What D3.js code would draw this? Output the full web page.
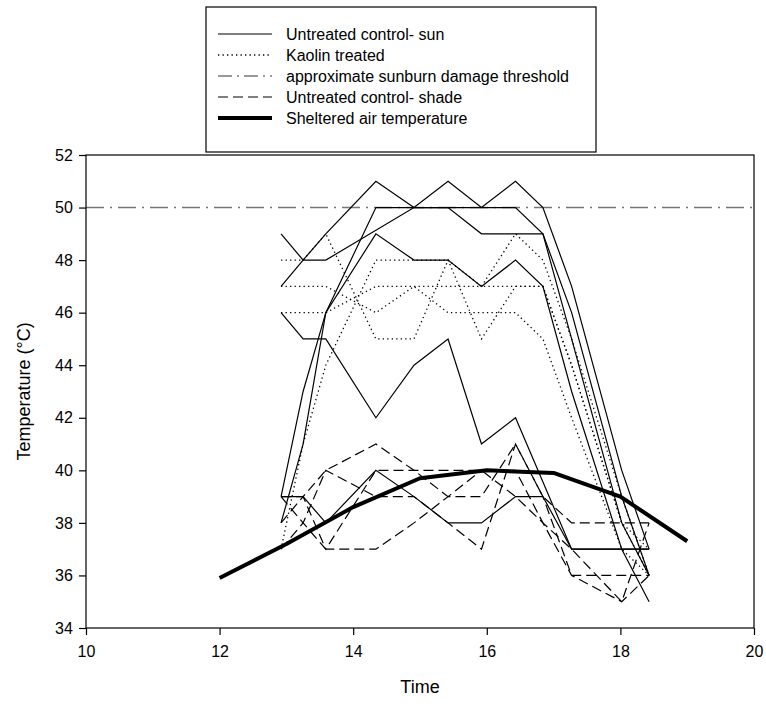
<!DOCTYPE html>
<html><head><meta charset="utf-8">
<script src="https://cdn.jsdelivr.net/npm/d3@7"></script>
<style>body{margin:0;background:#fff}svg{display:block}text{font-family:Arial,"Liberation Sans",sans-serif;fill:#000}</style>
</head><body>
<script>
const xTicks = [10,12,14,16,18,20];
const yTicks = [34,36,38,40,42,44,46,48,50,52];
const times = [12.92,13.25,13.59,14.34,14.91,15.42,15.92,16.43,16.84,17.27,17.67,18.02,18.43];
const sun1 = [47,48,49,51,50,51,50,51,50,47,null,40,37];
const sun2 = [49,48,48,null,50,50,49,49,49,46,null,39,36];
const sun3 = [39,43,46,50,50,50,50,50,49,45,null,38,36];
const sun4 = [38,41,46,49,48,48,47,48,47,43,null,37,35];
const sun5 = [46,45,45,42,44,45,41,42,null,37,null,null,37];
const sun6 = [39,39,38,40,39,38,38,39,39,37,null,null,37];
const kao1 = [48,48,49,45,45,48,45,47,47,44,null,38,36];
const kao2 = [47,47,47,46,47,46,46,46,45,42,null,37,36];
const kao3 = [37,41,44,48,48,48,47,47,47,44,null,38,37];
const kao4 = [46,46,46,47,47,47,47,49,48,45,null,39,36];
const shade1 = [39,39,40,41,40,39,39,41,39,38,null,null,38];
const shade2 = [38,39,37,37,38,39,40,40,38,36,null,35,36];
const shade3 = [39,38,37,40,40,40,40,39,38,37,null,35,38];
const shade4 = [37,38,40,39,39,38,37,41,39,36,null,null,36];
const airTimes = [12,13,14,15,16,17,18,19];
const airTemp = [35.9,37.2,38.6,39.7,40.0,39.9,39.0,37.3];
const threshold = 50;

const W=766,H=708, m={l:86,r:12,t:155,b:80};
const svg=d3.select("body").append("svg").attr("width",W).attr("height",H);
const x=d3.scaleLinear().domain([10,20]).range([m.l,W-m.r]);
const y=d3.scaleLinear().domain([34,52]).range([H-m.b,m.t]);
const line=d3.line().x(d=>x(d[0])).y(d=>y(d[1]));
function pts(vals){return times.map((t,i)=>[t,vals[i]]).filter(d=>d[1]!=null);}

const g=svg.append("g");
g.append("line").attr("x1",x(10)).attr("x2",x(20)).attr("y1",y(threshold)).attr("y2",y(threshold))
 .attr("stroke","#777").attr("stroke-width",1.6).attr("stroke-dasharray","18,6,2,6");
[kao1,kao2,kao3,kao4].forEach(v=>g.append("path").attr("d",line(pts(v))).attr("fill","none").attr("stroke","#000").attr("stroke-width",1.3).attr("stroke-dasharray","1.3,3.2"));
[shade1,shade2,shade3,shade4].forEach(v=>g.append("path").attr("d",line(pts(v))).attr("fill","none").attr("stroke","#000").attr("stroke-width",1.2).attr("stroke-dasharray","10,5"));
[sun1,sun2,sun3,sun4,sun5,sun6].forEach(v=>g.append("path").attr("d",line(pts(v))).attr("fill","none").attr("stroke","#000").attr("stroke-width",1.2));
g.append("path").attr("d",line(airTimes.map((t,i)=>[t,airTemp[i]]))).attr("fill","none").attr("stroke","#000").attr("stroke-width",4).attr("stroke-linejoin","round");

svg.append("rect").attr("x",x(10)).attr("y",y(52)).attr("width",x(20)-x(10)).attr("height",y(34)-y(52)).attr("fill","none").attr("stroke","#000").attr("stroke-width",1.2);
const xa=svg.append("g").attr("transform",`translate(0,${y(34)})`).call(d3.axisBottom(x).tickValues(xTicks).tickSize(7).tickSizeOuter(0));
const ya=svg.append("g").attr("transform",`translate(${x(10)},0)`).call(d3.axisLeft(y).tickValues(yTicks).tickSize(7).tickSizeOuter(0));
[xa,ya].forEach(a=>{a.select(".domain").remove();a.selectAll("line").attr("stroke","#000").attr("stroke-width",1.2);a.selectAll("text").attr("font-size",16).attr("font-family","Arial,'Liberation Sans',sans-serif");});
xa.selectAll("text").attr("dy","1.2em");
ya.selectAll("text").attr("dx","-0.2em");
svg.append("text").attr("x",(x(10)+x(20))/2).attr("y",693).attr("text-anchor","middle").attr("font-size",18).text("Time");
svg.append("text").attr("transform",`translate(30,${(y(34)+y(52))/2}) rotate(-90)`).attr("text-anchor","middle").attr("font-size",18).text("Temperature (°C)");

const legendLabels=["Untreated control- sun","Kaolin treated","approximate sunburn damage threshold","Untreated control- shade","Sheltered air temperature"];
const legendStyles=[{w:1.2,d:null,c:"#000"},{w:1.3,d:"1.3,3.2",c:"#000"},{w:1.4,d:"14,5,2,5",c:"#777"},{w:1.2,d:"10,5",c:"#000"},{w:4,d:null,c:"#000"}];
const lg=svg.append("g");
lg.append("rect").attr("x",206).attr("y",7).attr("width",390).attr("height",145).attr("fill","#fff").attr("stroke","#000").attr("stroke-width",1.2);
legendLabels.forEach((s,i)=>{const yy=34+i*21;
 lg.append("line").attr("x1",218).attr("x2",272).attr("y1",yy).attr("y2",yy).attr("stroke",legendStyles[i].c).attr("stroke-width",legendStyles[i].w).attr("stroke-dasharray",legendStyles[i].d);
 lg.append("text").attr("x",286).attr("y",yy).attr("dy","0.35em").attr("font-size",16).text(s);});
</script>
</body></html>
